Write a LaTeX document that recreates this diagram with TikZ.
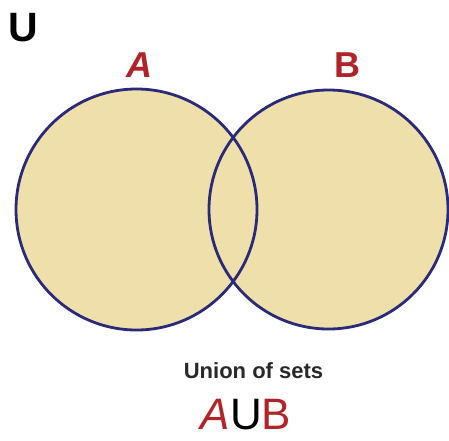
\documentclass[tikz,border=0pt]{standalone}
\usepackage{fontspec}
\setmainfont{Liberation Sans}
\definecolor{setfill}{RGB}{239,223,170}
\definecolor{setline}{RGB}{42,42,122}
\definecolor{setred}{RGB}{176,36,40}
\definecolor{textgray}{RGB}{40,40,40}
\tikzset{
  setcircle/.style={line width=2.8pt, draw=setline},
  lbl/.style={inner sep=0pt, text=setred},
}
\begin{document}
\begin{tikzpicture}[x=1pt,y=-1pt]
\useasboundingbox (0,0) rectangle (449,440);
\fill[white] (0,0) rectangle (449,440);
\coordinate (ca) at (136.5,209.5);
\coordinate (cb) at (328.5,209.5);
\fill[setfill] (ca) circle[radius=120.5pt];
\fill[setfill] (cb) circle[radius=119.5pt];
\draw[setcircle] (ca) circle[radius=120.5pt];
\draw[setcircle] (cb) circle[radius=119.5pt];
\node[inner sep=0pt, font=\fontsize{41}{44}\selectfont\bfseries, text=black] (U) at (23,28) {U};
\node[lbl, font=\fontsize{36}{40}\selectfont\bfseries\itshape] (la) at (139,65.5) {A};
\node[lbl, font=\fontsize{36}{40}\selectfont\bfseries] (lb) at (347,65.5) {B};
\node[inner sep=0pt, font=\fontsize{22}{24}\selectfont\bfseries, text=textgray] (title) at (253.5,370.5) {Union of sets};
\node[inner sep=0pt, font=\fontsize{44}{46}\selectfont] (union) at (246,415) {\textcolor{setred}{\itshape A}\textcolor{black}{U}\textcolor{setred}{B}};
\end{tikzpicture}
\end{document}
